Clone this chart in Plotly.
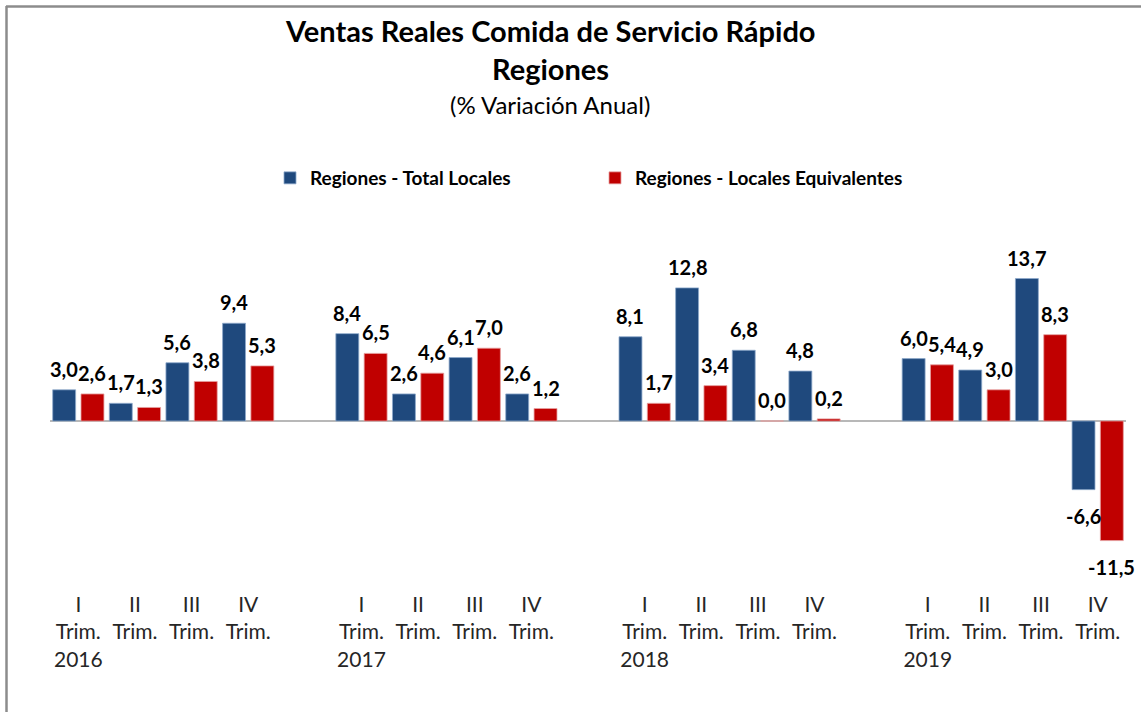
import plotly.graph_objects as go

# ---- data ----
years = ["2016", "2017", "2018", "2019"]
quarters = ["I", "II", "III", "IV"]
total_locales = [3.0, 1.7, 5.6, 9.4,
                 8.4, 2.6, 6.1, 2.6,
                 8.1, 12.8, 6.8, 4.8,
                 6.0, 4.9, 13.7, -6.6]
locales_equiv = [2.6, 1.3, 3.8, 5.3,
                 6.5, 4.6, 7.0, 1.2,
                 1.7, 3.4, 0.0, 0.2,
                 5.4, 3.0, 8.3, -11.5]
series_names = ["Regiones - Total Locales", "Regiones - Locales Equivalentes"]

# ---- positions on a numeric axis: one empty slot between years ----
x_pos, tick_text = [], []
for yi, yr in enumerate(years):
    for qi, q in enumerate(quarters):
        x_pos.append(yi * 5 + qi)
        tick_text.append(f"{q}<br>Trim." + (f"<br>{yr}" if qi == 0 else "<br> "))

BLUE = "#1f497d"
RED = "#c00000"
FONT = "Lato"

fig = go.Figure()
fig.add_trace(go.Bar(x=x_pos, y=total_locales, name=series_names[0],
                     marker=dict(color=BLUE, line=dict(color="#8ea9cc", width=0.8))))
fig.add_trace(go.Bar(x=x_pos, y=locales_equiv, name=series_names[1],
                     marker=dict(color=RED, line=dict(color="#e6a0a0", width=0.8))))

def fmt(v):
    return f"{v:.1f}".replace(".", ",")

annotations = []
for series, off in ((total_locales, -0.25), (locales_equiv, 0.25)):
    for xp, v in zip(x_pos, series):
        annotations.append(dict(
            x=xp + off, y=v, xref="x", yref="y", text=fmt(v), showarrow=False,
            yanchor="middle", yshift=21 if v >= 0 else -26,
            font=dict(family=FONT, size=20, color="#000000", weight="bold")))

# Title block
annotations += [
    dict(text="<b>Ventas Reales Comida de Servicio Rápido</b>", xref="paper", yref="paper",
         x=(550 - 50) / 1076, y=(590 - 30) / 390, showarrow=False, xanchor="center", yanchor="middle",
         font=dict(family=FONT, size=29, color="#000000")),
    dict(text="<b>Regiones</b>", xref="paper", yref="paper",
         x=(550 - 50) / 1076, y=(590 - 68) / 390, showarrow=False, xanchor="center", yanchor="middle",
         font=dict(family=FONT, size=29, color="#000000")),
    dict(text="(% Variación Anual)", xref="paper", yref="paper",
         x=(550 - 50) / 1076, y=(590 - 104) / 390, showarrow=False, xanchor="center", yanchor="middle",
         font=dict(family=FONT, size=24, color="#000000")),
]

shapes = [
    dict(type="line", xref="paper", yref="paper",
         x0=(6 - 50) / 1076, x1=(1141 - 50) / 1076, y0=(590 - 6.5) / 390, y1=(590 - 6.5) / 390,
         line=dict(color="#8c8c8c", width=2.5)),
    dict(type="line", xref="paper", yref="paper",
         x0=(6.5 - 50) / 1076, x1=(6.5 - 50) / 1076, y0=(590 - 6) / 390, y1=(590 - 712) / 390,
         line=dict(color="#8c8c8c", width=2.5)),
]

fig.update_layout(
    width=1141, height=712,
    margin=dict(l=50, r=15, t=200, b=122),
    paper_bgcolor="white", plot_bgcolor="white",
    barmode="group", bargap=0.0, bargroupgap=0.19,
    showlegend=True,
    legend=dict(orientation="h", x=(270 - 50) / 1076, xanchor="left",
                y=(590 - 178) / 390, yanchor="middle",
                entrywidth=280, entrywidthmode="pixels",
                font=dict(family=FONT, size=19, color="#000000", weight="bold"),
                bgcolor="rgba(0,0,0,0)"),
    xaxis=dict(range=[-0.5, 18.5], tickvals=x_pos, ticktext=tick_text,
               showgrid=False, showline=False, zeroline=False, ticks="",
               tickfont=dict(family=FONT, size=21, color="#262626")),
    yaxis=dict(range=[-16.25, 21.25], showgrid=False, showline=False,
               showticklabels=False, ticks="", zeroline=True,
               zerolinecolor="#b8b8b8", zerolinewidth=2),
    annotations=annotations,
    shapes=shapes,
)

fig.write_html("out.html",
               config={"displayModeBar": False},
               post_script="document.body.style.margin='0';document.body.style.overflow='hidden';")
